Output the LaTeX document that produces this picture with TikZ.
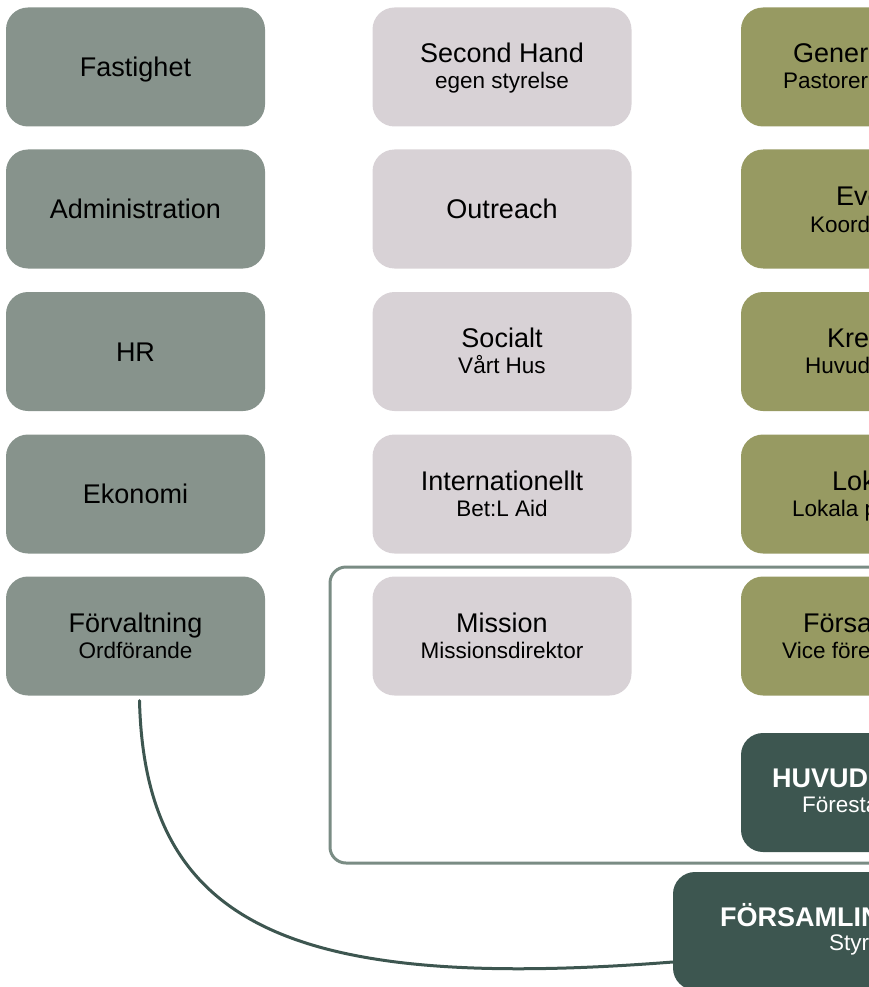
\documentclass[tikz,border=0pt]{standalone}
\usepackage{fontspec}
\setmainfont{Liberation Sans}
\usetikzlibrary{positioning}

\definecolor{graagron}{RGB}{135,147,140}
\definecolor{ljuslila}{RGB}{216,210,214}
\definecolor{oliv}{RGB}{151,154,98}
\definecolor{morkgron}{RGB}{61,86,80}
\definecolor{ramfarg}{RGB}{122,140,132}

\begin{document}
\begin{tikzpicture}[x=1pt,y=-1pt,
	ruta/.style={rounded corners=22pt, minimum width=259pt, minimum height=119pt, inner sep=0pt},
	admin/.style={ruta, fill=graagron},
	verks/.style={ruta, fill=ljuslila},
	past/.style={ruta, fill=oliv},
	ledning/.style={ruta, fill=morkgron},
	rubrik/.style={font=\fontsize{27}{31}\selectfont, inner sep=0pt, anchor=base},
	under/.style={font=\fontsize{22.5}{26}\selectfont, inner sep=0pt, anchor=base},
	vit/.style={text=white},
	ram/.style={draw=ramfarg, line width=3pt, rounded corners=16pt},
	kurva/.style={draw=morkgron, line width=3pt, line cap=round}]
	\clip (0,0) rectangle (869,987);

	% ram runt mission / forsamling / huvud
	\draw[ram] (330,567) rectangle (920,863);

	% vänster kolumn
	\node[admin] (fast) at (135.5,67) {};
	\node[admin] (adm) at (135.5,209) {};
	\node[admin] (hr) at (135.5,351.5) {};
	\node[admin] (ekon) at (135.5,494) {};
	\node[admin] (forv) at (135.5,636) {};
	\node[rubrik] (fast-t) at ([yshift=-9.5pt]fast.center) {Fastighet};
	\node[rubrik] (adm-t) at ([yshift=-9.5pt]adm.center) {Administration};
	\node[rubrik] (hr-t) at ([yshift=-9.5pt]hr.center) {HR};
	\node[rubrik] (ekon-t) at ([yshift=-9.5pt]ekon.center) {Ekonomi};
	\node[rubrik] (forv-t) at ([yshift=4pt]forv.center) {Förvaltning};
	\node[under] (forv-u) at ([yshift=-22pt]forv.center) {Ordförande};

	% mitten
	\node[verks] (sec) at (502,67) {};
	\node[verks] (outr) at (502,209) {};
	\node[verks] (soc) at (502,351.5) {};
	\node[verks] (intl) at (502,494) {};
	\node[verks] (miss) at (502,636) {};
	\node[rubrik] (sec-t) at ([yshift=4pt]sec.center) {Second Hand};
	\node[under] (sec-u) at ([yshift=-22pt]sec.center) {egen styrelse};
	\node[rubrik] (outr-t) at ([yshift=-9.5pt]outr.center) {Outreach};
	\node[rubrik] (soc-t) at ([yshift=4pt]soc.center) {Socialt};
	\node[under] (soc-u) at ([yshift=-22pt]soc.center) {Vårt Hus};
	\node[rubrik] (intl-t) at ([yshift=4pt]intl.center) {Internationellt};
	\node[under] (intl-u) at ([yshift=-22pt]intl.center) {Bet:L Aid};
	\node[rubrik] (miss-t) at ([yshift=4pt]miss.center) {Mission};
	\node[under] (miss-u) at ([yshift=-22pt]miss.center) {Missionsdirektor};

	% höger, pastorer
	\node[past] (gen) at (870.5,67) {};
	\node[past] (event) at (870.5,209) {};
	\node[past] (krea) at (870.5,351.5) {};
	\node[past] (lok) at (870.5,494) {};
	\node[past] (fors) at (870.5,636) {};
	\node[rubrik, anchor=base west] (gen-t) at (793,63) {Generation};
	\node[under, anchor=base west] (gen-u) at (783,89) {Pastorer};
	\node[rubrik, anchor=base west] (event-t) at (836,205) {Event};
	\node[under, anchor=base west] (event-u) at (810,232) {Koordinator};
	\node[rubrik, anchor=base west] (krea-t) at (827,347.5) {Kreativ};
	\node[under, anchor=base west] (krea-u) at (805,373.5) {Huvudpastor};
	\node[rubrik, anchor=base west] (lok-t) at (832,490) {Lokalt};
	\node[under, anchor=base west] (lok-u) at (792,516) {Lokala pastorer};
	\node[rubrik, anchor=base west] (fors-t) at (803,632) {Församling};
	\node[under, anchor=base west] (fors-u) at (782,658) {Vice föreståndare};

	% ledning
	\node[ledning] (huvud) at (870.5,792.5) {};
	\node[ledning, minimum width=340pt, minimum height=118pt] (forsam) at (843,931) {};
	\node[rubrik, vit, font=\fontsize{27}{31}\selectfont\bfseries, anchor=base west] (huvud-t) at (772,787) {HUVUDPASTOR};
	\node[under, vit, anchor=base west] (huvud-u) at (802,812) {Föreståndare};
	\node[rubrik, vit, font=\fontsize{27}{31}\selectfont\bfseries, anchor=base west] (forsam-t) at (720,926) {FÖRSAMLINGEN};
	\node[under, vit, anchor=base west] (forsam-u) at (829,950) {Styrelse};

	\draw[kurva] ([xshift=4pt,yshift=-5pt]forv.south) .. controls (145,925) and (290,992) .. ([yshift=-31pt]forsam.west);
\end{tikzpicture}
\end{document}
